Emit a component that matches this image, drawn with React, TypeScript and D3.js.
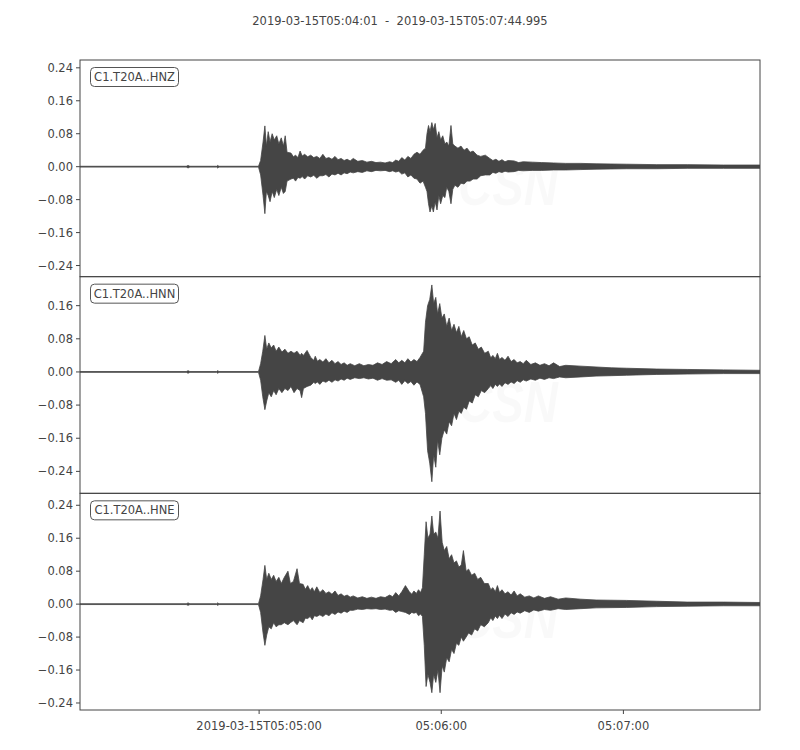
import React from "react";
import * as d3 from "d3";

// Time: seconds after 2019-03-15T05:04:01 (end at 223.995 s)
const startLabel = "2019-03-15T05:04:01";
const endLabel = "2019-03-15T05:07:44.995";
const duration = 223.995;
const xTickSeconds = [59, 119, 179];
const xTickLabels = ["2019-03-15T05:05:00", "05:06:00", "05:07:00"];

const channels = ["C1.T20A..HNZ", "C1.T20A..HNN", "C1.T20A..HNE"];
const yDomains: [number, number][] = [
  [-0.267, 0.259],
  [-0.293, 0.23],
  [-0.257, 0.269],
];
const yTicks = [-0.24, -0.16, -0.08, 0, 0.08, 0.16, 0.24];

// Envelope of each trace: [time (s), max, min]
const hnzEnv: [number, number, number][] = [
  [0, 0.001, -0.001], [35, 0.001, -0.001], [35.6, 0.003, -0.003], [36.2, 0.001, -0.001],
  [45, 0.001, -0.001], [45.3, 0.003, -0.003], [45.8, 0.001, -0.001], [58.8, 0.001, -0.001],
  [59.5, 0.015, -0.02], [60.3, 0.06, -0.07], [60.9, 0.099, -0.114], [61.4, 0.05, -0.06],
  [62.0, 0.085, -0.07], [62.6, 0.06, -0.085], [63.3, 0.08, -0.06], [64.0, 0.065, -0.075],
  [64.8, 0.075, -0.055], [65.5, 0.055, -0.07], [66.3, 0.07, -0.05], [67.0, 0.05, -0.065],
  [67.6, 0.075, -0.06], [68.2, 0.035, -0.035], [69.5, 0.033, -0.03], [70.3, 0.024, -0.028],
  [71.0, 0.028, -0.035], [71.8, 0.022, -0.026], [72.5, 0.038, -0.028], [73.2, 0.026, -0.024],
  [74.0, 0.03, -0.03], [75, 0.024, -0.022], [76, 0.028, -0.025], [77, 0.022, -0.021],
  [78, 0.025, -0.028], [79, 0.02, -0.022], [80, 0.03, -0.022], [81, 0.02, -0.019],
  [82, 0.022, -0.025], [83, 0.018, -0.018], [84, 0.025, -0.02], [85, 0.017, -0.016],
  [86, 0.02, -0.02], [87, 0.015, -0.015], [88, 0.018, -0.017], [89, 0.014, -0.013],
  [90, 0.02, -0.015], [91.5, 0.013, -0.012], [93, 0.015, -0.014], [94.5, 0.011, -0.01],
  [96, 0.013, -0.012], [97.5, 0.01, -0.009], [99, 0.011, -0.01], [100.5, 0.009, -0.009],
  [102, 0.012, -0.012], [103, 0.01, -0.01], [104, 0.016, -0.013], [105, 0.013, -0.011],
  [106, 0.022, -0.018], [107, 0.016, -0.015], [108, 0.025, -0.025], [109, 0.02, -0.02],
  [110, 0.03, -0.028], [111, 0.035, -0.03], [112, 0.03, -0.04],
  [113, 0.04, -0.035], [113.8, 0.045, -0.05], [114.3, 0.08, -0.06], [114.8, 0.1, -0.09],
  [115.3, 0.085, -0.11], [115.9, 0.107, -0.095], [116.4, 0.09, -0.11], [117.0, 0.105, -0.085],
  [117.6, 0.07, -0.105], [118.2, 0.085, -0.07], [118.8, 0.065, -0.09], [119.5, 0.075, -0.07],
  [120.2, 0.055, -0.075], [120.8, 0.06, -0.05], [121.5, 0.05, -0.06], [122.2, 0.1, -0.09],
  [122.8, 0.055, -0.055], [123.5, 0.05, -0.045], [124.5, 0.045, -0.05], [125.5, 0.05, -0.04],
  [126.5, 0.04, -0.042], [127.5, 0.045, -0.035], [128.5, 0.035, -0.035], [129.5, 0.038, -0.03],
  [130.8, 0.028, -0.03], [132, 0.025, -0.022], [133.5, 0.028, -0.02], [135, 0.02, -0.02],
  [136, 0.015, -0.014], [137, 0.018, -0.016], [138, 0.013, -0.012], [139, 0.017, -0.014],
  [140, 0.012, -0.011], [141, 0.015, -0.013], [143, 0.014, -0.012], [144.5, 0.01, -0.009],
  [146, 0.012, -0.01], [149, 0.011, -0.009], [152, 0.01, -0.009], [156, 0.009, -0.008],
  [160, 0.008, -0.008], [165, 0.008, -0.007], [170, 0.007, -0.006], [180, 0.006, -0.005],
  [190, 0.005, -0.005], [200, 0.005, -0.004], [212, 0.004, -0.004], [223.995, 0.004, -0.004],
];

const hnnEnv: [number, number, number][] = [
  [0, 0.001, -0.001], [35, 0.001, -0.001], [35.6, 0.003, -0.003], [36.2, 0.001, -0.001],
  [45, 0.001, -0.001], [45.3, 0.003, -0.003], [45.8, 0.001, -0.001], [58.8, 0.001, -0.001],
  [59.5, 0.02, -0.02], [60.2, 0.05, -0.06], [60.9, 0.088, -0.091], [61.5, 0.055, -0.07],
  [62.2, 0.07, -0.05], [63.0, 0.058, -0.06], [63.8, 0.065, -0.045], [64.6, 0.05, -0.055],
  [65.5, 0.06, -0.04], [66.5, 0.048, -0.05], [67.5, 0.055, -0.04], [68.5, 0.045, -0.045],
  [69.5, 0.05, -0.035], [70.5, 0.045, -0.05], [71.5, 0.05, -0.04], [72.5, 0.04, -0.045],
  [73.0, 0.045, -0.062], [73.6, 0.04, -0.04], [74.8, 0.052, -0.035], [76, 0.035, -0.032],
  [77, 0.028, -0.025], [77.5, 0.038, -0.028], [78.2, 0.026, -0.024], [79, 0.03, -0.03],
  [80, 0.024, -0.022], [81, 0.032, -0.025], [82, 0.022, -0.02], [83, 0.028, -0.025],
  [84, 0.02, -0.019], [85, 0.025, -0.022], [86, 0.018, -0.017], [87, 0.022, -0.02],
  [88, 0.016, -0.015], [89, 0.02, -0.018], [90.5, 0.015, -0.014], [92, 0.02, -0.016],
  [93.5, 0.015, -0.014], [95, 0.018, -0.017], [96.5, 0.016, -0.015], [98, 0.022, -0.02],
  [99.5, 0.018, -0.016], [101, 0.025, -0.02], [102.5, 0.02, -0.019], [104, 0.03, -0.025],
  [105, 0.022, -0.02], [106, 0.028, -0.03], [107, 0.022, -0.021], [108, 0.032, -0.028],
  [109, 0.024, -0.023], [110, 0.03, -0.032], [111, 0.025, -0.024], [112, 0.035, -0.03],
  [113.2, 0.05, -0.06], [113.8, 0.12, -0.1], [114.5, 0.16, -0.19], [115.2, 0.175, -0.22],
  [115.9, 0.21, -0.265], [116.5, 0.165, -0.2], [117.2, 0.18, -0.23], [117.8, 0.14, -0.165],
  [118.5, 0.165, -0.2], [119.2, 0.13, -0.16], [120.0, 0.14, -0.14], [120.8, 0.11, -0.15],
  [121.6, 0.13, -0.12], [122.4, 0.1, -0.13], [123.2, 0.115, -0.1], [124.0, 0.095, -0.115],
  [124.8, 0.11, -0.095], [125.6, 0.085, -0.1], [126.4, 0.1, -0.085], [127.3, 0.08, -0.09],
  [128.2, 0.085, -0.07], [129.2, 0.065, -0.075], [130.2, 0.07, -0.055], [131.2, 0.055, -0.06],
  [132.2, 0.06, -0.045], [133.3, 0.045, -0.05], [134.5, 0.05, -0.04], [135.3, 0.034, -0.033],
  [136, 0.04, -0.04], [136.8, 0.032, -0.03], [137.5, 0.045, -0.035], [138.2, 0.03, -0.029],
  [139, 0.035, -0.035], [140, 0.028, -0.026], [141, 0.038, -0.03], [142, 0.025, -0.024],
  [143, 0.03, -0.028], [144, 0.022, -0.021], [145, 0.025, -0.025], [146, 0.02, -0.019],
  [147, 0.028, -0.022], [148.5, 0.018, -0.017], [150, 0.022, -0.02], [151.5, 0.016, -0.015],
  [153, 0.02, -0.018], [154.5, 0.015, -0.014], [156, 0.022, -0.016], [158, 0.013, -0.012],
  [160, 0.016, -0.014], [165, 0.014, -0.012], [170, 0.012, -0.01],
  [175, 0.01, -0.009], [180, 0.009, -0.008], [190, 0.007, -0.006], [200, 0.006, -0.005],
  [212, 0.005, -0.004], [223.995, 0.004, -0.004],
];

const hneEnv: [number, number, number][] = [
  [0, 0.001, -0.001], [35, 0.001, -0.001], [35.6, 0.003, -0.003], [36.2, 0.001, -0.001],
  [45, 0.001, -0.001], [45.3, 0.003, -0.003], [45.8, 0.001, -0.001], [58.8, 0.001, -0.001],
  [59.5, 0.02, -0.02], [60.3, 0.06, -0.07], [60.9, 0.094, -0.1], [61.5, 0.06, -0.075],
  [62.2, 0.075, -0.055], [63.0, 0.06, -0.06], [63.8, 0.07, -0.045], [64.6, 0.055, -0.055],
  [65.5, 0.065, -0.05], [66.3, 0.05, -0.05], [67.3, 0.065, -0.045], [68.5, 0.08, -0.05],
  [69.3, 0.05, -0.045], [70.3, 0.055, -0.04], [71.5, 0.086, -0.05], [72.3, 0.05, -0.04],
  [73.5, 0.048, -0.045], [74.2, 0.036, -0.034], [75, 0.045, -0.035], [75.8, 0.033, -0.03],
  [76.5, 0.04, -0.038], [77.2, 0.03, -0.028], [78, 0.042, -0.03], [79, 0.028, -0.026],
  [80, 0.035, -0.03], [81, 0.026, -0.024], [82, 0.03, -0.028], [83, 0.024, -0.021],
  [84, 0.032, -0.025], [85, 0.021, -0.019], [86, 0.025, -0.022], [87, 0.019, -0.017],
  [88, 0.022, -0.02], [89, 0.017, -0.015], [90, 0.02, -0.015], [91.5, 0.015, -0.012],
  [93, 0.018, -0.013], [94.5, 0.014, -0.011], [96, 0.017, -0.012], [97.5, 0.014, -0.011],
  [99, 0.018, -0.013], [100.5, 0.016, -0.012], [102, 0.022, -0.015], [103, 0.018, -0.014],
  [104, 0.028, -0.02], [105, 0.02, -0.016], [106, 0.03, -0.018],
  [107.2, 0.045, -0.02], [108.5, 0.03, -0.025], [109.3, 0.024, -0.02], [110, 0.032, -0.022],
  [110.8, 0.026, -0.02], [111.5, 0.035, -0.028], [112.2, 0.028, -0.024],
  [112.8, 0.04, -0.03], [113.4, 0.12, -0.1], [114.0, 0.2, -0.2], [114.6, 0.16, -0.17],
  [115.3, 0.17, -0.19], [115.9, 0.214, -0.215], [116.5, 0.17, -0.17], [117.2, 0.175, -0.19],
  [117.9, 0.16, -0.16], [118.6, 0.226, -0.215], [119.3, 0.15, -0.15], [120.0, 0.13, -0.165],
  [120.8, 0.14, -0.13], [121.6, 0.11, -0.14], [122.4, 0.12, -0.11], [123.2, 0.1, -0.12],
  [124.0, 0.105, -0.095], [124.8, 0.09, -0.1], [125.6, 0.095, -0.08], [126.3, 0.13, -0.09],
  [127.2, 0.08, -0.08], [128.0, 0.085, -0.07], [129.0, 0.07, -0.075], [130.0, 0.075, -0.06],
  [131.0, 0.06, -0.065], [132.0, 0.065, -0.05], [133.2, 0.05, -0.055], [134.5, 0.05, -0.045],
  [135.3, 0.035, -0.033], [136, 0.04, -0.04], [136.8, 0.03, -0.029], [137.5, 0.045, -0.035],
  [138.2, 0.028, -0.027], [139, 0.035, -0.035], [140, 0.025, -0.024], [141, 0.03, -0.03],
  [142, 0.022, -0.021], [143, 0.032, -0.025], [144, 0.02, -0.019], [145, 0.025, -0.022],
  [146.5, 0.017, -0.016], [148, 0.02, -0.02], [149.5, 0.015, -0.014], [151, 0.02, -0.017],
  [153, 0.014, -0.013], [155, 0.018, -0.015], [157.5, 0.012, -0.011], [160, 0.015, -0.013],
  [165, 0.012, -0.011], [170, 0.01, -0.009],
  [180, 0.009, -0.008], [190, 0.007, -0.006], [200, 0.005, -0.005], [212, 0.005, -0.004],
  [223.995, 0.004, -0.004],
];

const envelopes = [hnzEnv, hnnEnv, hneEnv];
const watermarkLines = ["CSN", "CENTRO SISMOLÓGICO NACIONAL", "UNIVERSIDAD DE CHILE"];

const W = 800;
const H = 750;
const left = 80;
const right = 760;
const top = 60;
const bottom = 710;
const ph = (bottom - top) / 3;
const ink = "#454545";
const textColor = "#444444";
const font = "'DejaVu Sans', sans-serif";
const fs = 11.5;

export default function App() {
  const x = d3.scaleLinear().domain([0, duration]).range([left, right]);
  const fmt = d3.format(".2f");

  return (
    <svg width={W} height={H} style={{ display: "block", position: "absolute", left: 0, top: 0 }}>
      <rect width={W} height={H} fill="#fff" />
      <text
        x={400}
        y={25}
        textAnchor="middle"
        fontFamily={font}
        fontSize={fs}
        fill={textColor}
        style={{ whiteSpace: "pre" }}
        xmlSpace="preserve"
      >
        {`${startLabel}  -  ${endLabel}`}
      </text>
      {channels.map((ch, i) => {
        const y0 = top + i * ph;
        const y = d3.scaleLinear().domain(yDomains[i]).range([y0 + ph, y0]);
        const area = d3
          .area<[number, number, number]>()
          .x((d) => x(d[0]))
          .y0((d) => y(d[2]))
          .y1((d) => y(d[1]));
        const ticks = yTicks.filter((t) => t >= yDomains[i][0] && t <= yDomains[i][1]);
        return (
          <g key={ch}>
            <clipPath id={`clip${i}`}>
              <rect x={left} y={y0} width={right - left} height={ph} />
            </clipPath>
            <g
              clipPath={`url(#clip${i})`}
              fill="#000"
              fillOpacity={0.022}
              fontFamily="'Liberation Sans Narrow', 'Liberation Sans', sans-serif"
              fontStyle="italic"
            >
              <text x={458} y={y0 + 145} fontSize={58} fontWeight="bold" textLength={100} lengthAdjust="spacingAndGlyphs">
                {watermarkLines[0]}
              </text>
              <text x={532} y={y0 + 173} fontSize={14} textLength={222} lengthAdjust="spacingAndGlyphs">
                {watermarkLines[1]}
              </text>
              <text x={528} y={y0 + 192} fontSize={14} textLength={152} lengthAdjust="spacingAndGlyphs">
                {watermarkLines[2]}
              </text>
            </g>
            <path
              d={area(envelopes[i]) || ""}
              fill={ink}
              stroke={ink}
              strokeWidth={0.8}
              clipPath={`url(#clip${i})`}
            />
            <rect x={left} y={y0} width={right - left} height={ph} fill="none" stroke="#444" strokeWidth={1} />
            {ticks.map((t) => (
              <g key={t} transform={`translate(0,${y(t)})`}>
                <line x1={left - 4} x2={left} stroke="#444" />
                <text x={left - 7} dy="0.35em" textAnchor="end" fontFamily={font} fontSize={fs} fill={textColor}>
                  {fmt(t)}
                </text>
              </g>
            ))}
            <rect x={90.5} y={y0 + 7.5} width={88} height={19} rx={4} fill="#fff" stroke="#555" strokeWidth={1} />
            <text x={134.5} y={y0 + 17} dy="0.35em" textAnchor="middle" fontFamily={font} fontSize={fs} fill={textColor}>
              {ch}
            </text>
          </g>
        );
      })}
      {xTickSeconds.map((s, k) => (
        <g key={s} transform={`translate(${x(s)},${bottom})`}>
          <line y1={0} y2={4} stroke="#444" />
          <text y={20} textAnchor="middle" fontFamily={font} fontSize={fs} fill={textColor}>
            {xTickLabels[k]}
          </text>
        </g>
      ))}
    </svg>
  );
}
